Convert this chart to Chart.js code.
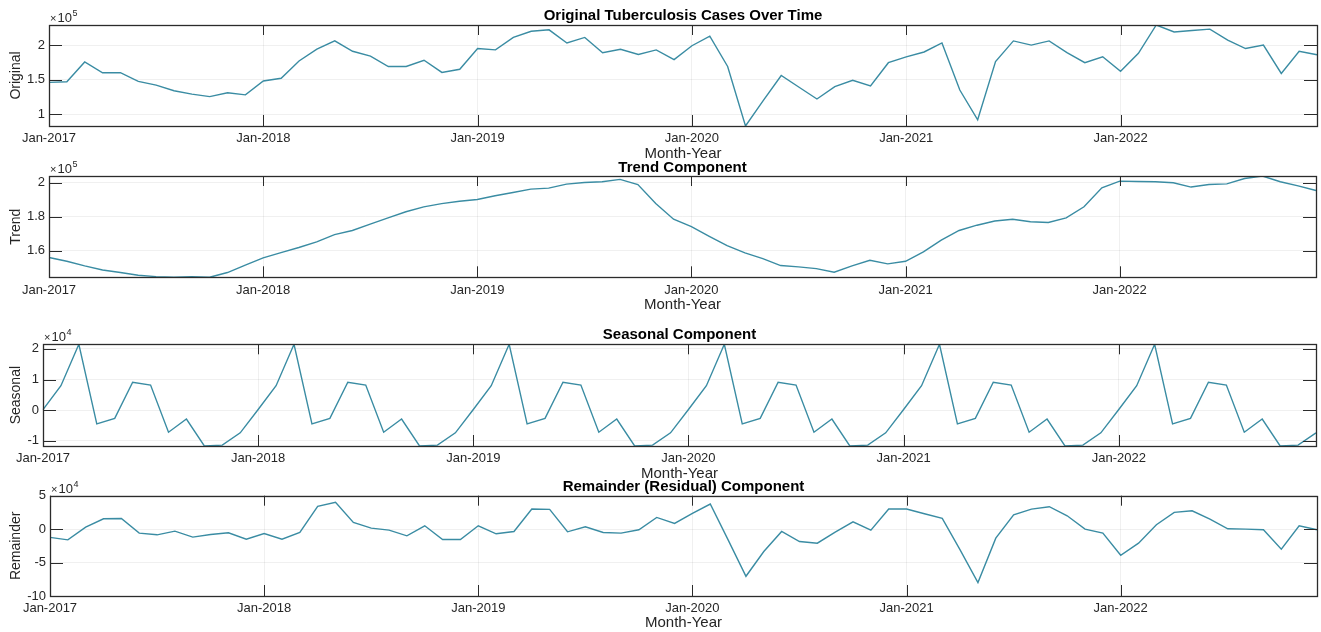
<!DOCTYPE html>
<html>
<head>
<meta charset="utf-8">
<title>Tuberculosis cases: seasonal decomposition</title>
<script src="https://cdn.jsdelivr.net/npm/chart.js@4.4.1/dist/chart.umd.min.js"></script>
<style>
  html, body { margin: 0; padding: 0; background: #fff; }
  #wrap { position: relative; width: 1321px; height: 632px; overflow: hidden; background: #fff; }
  #wrap canvas { position: absolute; left: 0; }
</style>
</head>
<body>
<div id="wrap"></div>
<script>
// ---- categories: one point per month, Jan-2017 .. Dec-2022 ----
const monthNames = ['Jan','Feb','Mar','Apr','May','Jun','Jul','Aug','Sep','Oct','Nov','Dec'];
const years = [2017, 2018, 2019, 2020, 2021, 2022];
const months = [];
years.forEach(y => monthNames.forEach(m => months.push(m + '-' + y)));

// ---- series values (cases) ----
const original = [
  146000, 147000, 175500, 160000, 160000, 147600, 142000, 134000, 129000, 125500, 131000, 128000,
  148000, 152000, 177000, 194000, 206000, 191000, 184000, 169000, 169000, 178000, 160500, 165000,
  195000, 193000, 211000, 220000, 222000, 203000, 211000, 189000, 194000, 186500, 193000, 179000,
  199000, 213000, 169000,  83000, 120000, 156000, 139000, 122000, 140000, 149000, 141000, 174500,
  183000, 190000, 203000, 135000,  92000, 176000, 206000, 200000, 206000, 189000, 174500, 183000,
  162000, 188000, 229000, 219000, 221000, 223000, 207000, 195000, 200000, 159000, 191000, 186000
];
const trend = [
  156100, 153900, 151200, 148800, 147300, 145700, 144900, 144500, 144900, 144500, 147300, 151600,
  155900, 159000, 162000, 165300, 169600, 172000, 175700, 179400, 183000, 185900, 187800, 189200,
  190200, 192400, 194300, 196300, 196900, 199200, 200200, 200600, 202000, 199000, 187800, 178600,
  174300, 168600, 163100, 158800, 155500, 151400, 150600, 149600, 147500, 151200, 154500, 152400,
  153900, 159400, 166300, 172000, 175100, 177600, 178600, 177100, 176700, 179400, 185900, 197100,
  201000, 200800, 200600, 200000, 197500, 199000, 199400, 202500, 204000, 200600, 198200, 195500
];
const seasonal = [
    200,   8000,  21500,  -4500,  -2700,   9100,   8200,  -7200,  -2900, -11700, -11400,  -7400,
    200,   8000,  21500,  -4500,  -2700,   9100,   8200,  -7200,  -2900, -11700, -11400,  -7400,
    200,   8000,  21500,  -4500,  -2700,   9100,   8200,  -7200,  -2900, -11700, -11400,  -7400,
    200,   8000,  21500,  -4500,  -2700,   9100,   8200,  -7200,  -2900, -11700, -11400,  -7400,
    200,   8000,  21500,  -4500,  -2700,   9100,   8200,  -7200,  -2900, -11700, -11400,  -7400,
    200,   8000,  21500,  -4500,  -2700,   9100,   8200,  -7200,  -2900, -11700, -11400,  -7400
];
const remainder = [
  -12400, -16000,   3000,  15500,  16000,  -6000,  -8500,  -3000, -12000,  -8000,  -5500, -15000,
   -6500, -15000,  -5000,  34000,  40000,  10000,   1500,  -1500, -10000,   5000, -15500, -15500,
    5000,  -7000,  -3500,  30000,  29500,  -4000,   3500,  -5000,  -6000,  -1000,  17500,   8500,
   23500,  37500, -16000, -70500, -33500,  -3500, -18500, -21000,  -4500,  11000,  -1500,  30000,
   30000,  23000,  16000, -31000, -80000, -13500,  21500,  30000,  33500,  20000,      0,  -6000,
  -39000, -21000,   6500,  25000,  27500,  15000,    500,      0,  -1000, -30000,   5000,  -1000
];

// ---- y tick values and their labels (scaled by the exponent shown above each axis) ----
const originalTicks = [100000, 150000, 200000];
const originalTickLabels = ['1', '1.5', '2'];
const trendTicks = [160000, 180000, 200000];
const trendTickLabels = ['1.6', '1.8', '2'];
const seasonalTicks = [-10000, 0, 10000, 20000];
const seasonalTickLabels = ['-1', '0', '1', '2'];
const remainderTicks = [-100000, -50000, 0, 50000];
const remainderTickLabels = ['-10', '-5', '0', '5'];

// ---- styling ----
const FONT = "'Liberation Sans', Arial, Helvetica, sans-serif";
const LINE_COLOR = '#3a8ca3';
const AXIS_COLOR = '#2b2b2b';
const GRID_COLOR = 'rgba(0,0,0,0.06)';
const W = 1321;

// Boxed axes with inward tick marks and the "x10^n" multiplier label.
const boxFrame = {
  id: 'boxFrame',
  afterDatasetsDraw(chart, args, opts) {
    const { ctx, chartArea: a, scales: { x, y } } = chart;
    ctx.save();
    ctx.strokeStyle = AXIS_COLOR;
    ctx.lineWidth = 1;
    ctx.beginPath();
    x.ticks.forEach(t => {
      const px = Math.round(x.getPixelForValue(t.value)) + 0.5;
      ctx.moveTo(px, a.bottom); ctx.lineTo(px, a.bottom - 11);
      ctx.moveTo(px, a.top);    ctx.lineTo(px, a.top + 10);
    });
    y.ticks.forEach(t => {
      const py = Math.round(y.getPixelForValue(t.value)) + 0.5;
      ctx.moveTo(a.left, py);  ctx.lineTo(a.left + 13, py);
      ctx.moveTo(a.right, py); ctx.lineTo(a.right - 13, py);
    });
    ctx.stroke();
    ctx.lineWidth = 1.3;
    ctx.strokeRect(Math.round(a.left) + 0.5, Math.round(a.top) + 0.5,
                   Math.round(a.right - a.left), Math.round(a.bottom - a.top));
    // exponent label
    ctx.fillStyle = '#262626';
    ctx.textBaseline = 'alphabetic';
    ctx.textAlign = 'left';
    ctx.font = '11px ' + FONT;
    const bx = a.left + 1, by = a.top - 3;
    ctx.fillText('\u00d7', bx, by);
    const wx = ctx.measureText('\u00d7').width;
    ctx.font = '13px ' + FONT;
    ctx.fillText('10', bx + wx + 1, by);
    const w10 = ctx.measureText('10').width;
    ctx.font = '9px ' + FONT;
    ctx.fillText(opts.exp, bx + wx + 1 + w10 + 0.5, by - 6);
    ctx.restore();
  }
};

// Per-panel layout: canvas placement, plot box edges, paddings.
const panels = [
  { title: 'Original Tuberculosis Cases Over Time', ylabel: 'Original', values: original,
    ticks: originalTicks, tickLabels: originalTickLabels, exp: '5', tight: true,
    top: 0, height: 165, left: 49, right: 1317,
    titlePad: [7.75, 0.75], xHeight: 39, xTitlePad: 2 },
  { title: 'Trend Component', ylabel: 'Trend', values: trend,
    ticks: trendTicks, tickLabels: trendTickLabels, exp: '5', tight: true,
    top: 150, height: 165, left: 49, right: 1316,
    titlePad: [9.45, 0.05], xHeight: 37.7, xTitlePad: 1 },
  { title: 'Seasonal Component', ylabel: 'Seasonal', values: seasonal,
    ticks: seasonalTicks, tickLabels: seasonalTickLabels, exp: '4', tight: true,
    top: 318, height: 165, left: 43, right: 1316,
    titlePad: [8.75, 1.05], xHeight: 37, xTitlePad: 0 },
  { title: 'Remainder (Residual) Component', ylabel: 'Remainder', values: remainder,
    ticks: remainderTicks, tickLabels: remainderTickLabels, exp: '4', tight: false,
    min: -100000, max: 50000,
    top: 470, height: 162, left: 50, right: 1317,
    titlePad: [8.45, 0.75], xHeight: 36, xTitlePad: 0 }
];

const wrap = document.getElementById('wrap');

panels.forEach(p => {
  const canvas = document.createElement('canvas');
  canvas.width = W;
  canvas.height = p.height;
  canvas.style.top = p.top + 'px';
  canvas.style.width = W + 'px';
  canvas.style.height = p.height + 'px';
  wrap.appendChild(canvas);

  const yMin = p.tight ? Math.min(...p.values) : p.min;
  const yMax = p.tight ? Math.max(...p.values) : p.max;

  new Chart(canvas, {
    type: 'line',
    data: {
      labels: months,
      datasets: [{
        data: p.values,
        borderColor: LINE_COLOR,
        borderWidth: 1.4,
        pointRadius: 0,
        tension: 0,
        fill: false
      }]
    },
    options: {
      responsive: false,
      animation: false,
      events: [],
      layout: { padding: { left: 0, right: W - p.right, top: 0, bottom: 0 } },
      plugins: {
        legend: { display: false },
        tooltip: { enabled: false },
        title: {
          display: true,
          text: p.title,
          color: '#000',
          fullSize: false,
          font: { family: FONT, size: 15, weight: 'bold', lineHeight: 1.1 },
          padding: { top: p.titlePad[0], bottom: p.titlePad[1] }
        },
        boxFrame: { exp: p.exp }
      },
      scales: {
        x: {
          type: 'category',
          offset: false,
          border: { display: false },
          grid: { color: GRID_COLOR, drawTicks: false, lineWidth: 1 },
          ticks: {
            autoSkip: false, maxRotation: 0, minRotation: 0, padding: 5,
            color: '#262626', font: { family: FONT, size: 13 }
          },
          afterBuildTicks: s => { s.ticks = s.ticks.filter(t => months[t.value].startsWith('Jan')); },
          afterFit: s => { s.height = p.xHeight; },
          title: {
            display: true, text: 'Month-Year', color: '#262626',
            font: { family: FONT, size: 15, lineHeight: 1.2 },
            padding: { top: 0, bottom: p.xTitlePad }
          }
        },
        y: {
          type: 'linear',
          min: yMin,
          max: yMax,
          border: { display: false },
          grid: { color: GRID_COLOR, drawTicks: false, lineWidth: 1 },
          ticks: {
            padding: 4, color: '#262626', font: { family: FONT, size: 13 },
            callback: (v, i) => p.tickLabels[i]
          },
          afterBuildTicks: s => { s.ticks = p.ticks.map(v => ({ value: v })); },
          afterFit: s => { s.width = p.left; },
          title: {
            display: true, text: p.ylabel, color: '#262626',
            font: { family: FONT, size: 14, lineHeight: 1.2 },
            padding: { top: 7.6, bottom: 0 }
          }
        }
      }
    },
    plugins: [boxFrame]
  });
});
</script>
</body>
</html>
